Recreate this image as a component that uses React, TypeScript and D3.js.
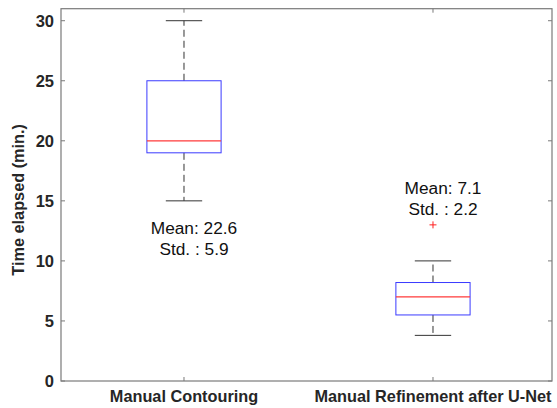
import React from "react";
import * as d3 from "d3";

const categories = ["Manual Contouring", "Manual Refinement after U-Net"];
const whiskerLow = [15, 3.8];
const q1 = [19, 5.5];
const median = [20, 7];
const q3 = [25, 8.2];
const whiskerHigh = [30, 10];
const outliers = [[], [13]];
const means = [22.6, 7.1];
const stds = [5.9, 2.2];
const labelY = [12.25, 15.6];
const yTicks = [0, 5, 10, 15, 20, 25, 30];

const W = 557;
const H = 408;

export default function App() {
  const x = d3.scaleLinear().domain([0.506, 2.478]).range([61, 552]);
  const y = d3.scaleLinear().domain([0, 31]).range([381, 8.7]);
  const left = x.range()[0];
  const right = x.range()[1];
  const top = y.range()[1];
  const bottom = y.range()[0];
  const axisColor = "#7a7a7a";
  const textColor = "#262626";
  const boxHalf = 0.149;
  const capHalf = 0.073;
  const font = "'Liberation Sans', Arial, sans-serif";

  return (
    <svg
      width={W}
      height={H}
      style={{ position: "absolute", left: 0, top: 0, background: "#fff" }}
      fontFamily={font}
    >
      <rect x={0} y={0} width={W} height={H} fill="#fff" />
      {categories.map((c, i) => {
        const cx = x(i + 1);
        return (
          <g key={c}>
            <line x1={cx} x2={cx} y1={y(q3[i])} y2={y(whiskerHigh[i])} stroke="#333" strokeWidth={1} strokeDasharray="7,4" />
            <line x1={cx} x2={cx} y1={y(q1[i])} y2={y(whiskerLow[i])} stroke="#333" strokeWidth={1} strokeDasharray="7,4" />
            <line x1={x(i + 1 - capHalf)} x2={x(i + 1 + capHalf)} y1={y(whiskerHigh[i])} y2={y(whiskerHigh[i])} stroke="#333" strokeWidth={1} />
            <line x1={x(i + 1 - capHalf)} x2={x(i + 1 + capHalf)} y1={y(whiskerLow[i])} y2={y(whiskerLow[i])} stroke="#333" strokeWidth={1} />
            <rect
              x={x(i + 1 - boxHalf)}
              y={y(q3[i])}
              width={x(i + 1 + boxHalf) - x(i + 1 - boxHalf)}
              height={y(q1[i]) - y(q3[i])}
              fill="none"
              stroke="#3a3aff"
              strokeWidth={1}
            />
            <line x1={x(i + 1 - boxHalf)} x2={x(i + 1 + boxHalf)} y1={y(median[i])} y2={y(median[i])} stroke="#ff3a3a" strokeWidth={1.2} />
            {outliers[i].map((o, k) => (
              <g key={k} stroke="#ff2020" strokeWidth={1}>
                <line x1={cx - 3.5} x2={cx + 3.5} y1={y(o)} y2={y(o)} />
                <line x1={cx} x2={cx} y1={y(o) - 3.5} y2={y(o) + 3.5} />
              </g>
            ))}
            <text x={cx + 10} y={y(labelY[i])} textAnchor="middle" fontSize={17.3} fill="#111">
              {`Mean: ${means[i]}`}
            </text>
            <text x={cx + 10} y={y(labelY[i]) + 21.5} textAnchor="middle" fontSize={17.3} fill="#111">
              {`Std. : ${stds[i]}`}
            </text>
          </g>
        );
      })}
      <rect x={left} y={top} width={right - left} height={bottom - top} fill="none" stroke={axisColor} strokeWidth={1.2} />
      {yTicks.map((t) => (
        <g key={t}>
          <line x1={left} x2={left + 4} y1={y(t)} y2={y(t)} stroke={axisColor} />
          <line x1={right - 4} x2={right} y1={y(t)} y2={y(t)} stroke={axisColor} />
          <text x={54} y={y(t)} dy="0.36em" textAnchor="end" fontSize={16.5} fontWeight="bold" fill={textColor}>
            {t}
          </text>
        </g>
      ))}
      {categories.map((c, i) => (
        <g key={c}>
          <line x1={x(i + 1)} x2={x(i + 1)} y1={bottom} y2={bottom - 4} stroke={axisColor} />
          <line x1={x(i + 1)} x2={x(i + 1)} y1={top} y2={top + 4} stroke={axisColor} />
          <text x={x(i + 1)} y={401.5} textAnchor="middle" fontSize={16.3} fontWeight="bold" fill={textColor}>
            {c}
          </text>
        </g>
      ))}
      <text
        transform={`translate(${24},${(top + bottom) / 2 + 5}) rotate(-90)`}
        textAnchor="middle"
        fontSize={16.3}
        fontWeight="bold"
        fill={textColor}
      >
        Time elapsed (min.)
      </text>
    </svg>
  );
}
